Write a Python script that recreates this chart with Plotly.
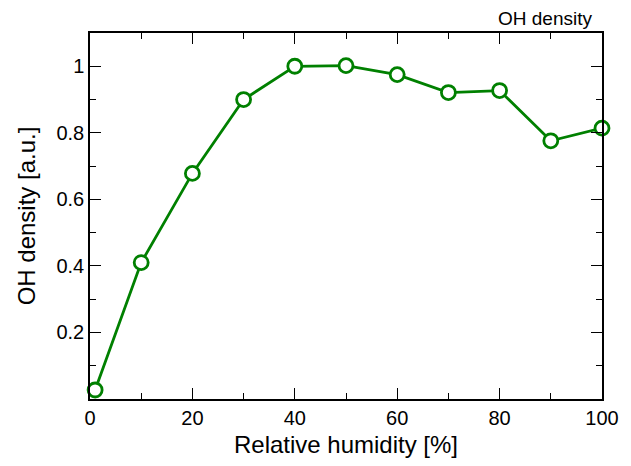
import plotly.graph_objects as go

humidity = [1, 10, 20, 30, 40, 50, 60, 70, 80, 90, 100]
oh_density = [0.027, 0.41, 0.678, 0.90, 1.0, 1.002, 0.975, 0.921, 0.927, 0.776, 0.814]

x_ticks = [0, 20, 40, 60, 80, 100]
y_ticks = [0.2, 0.4, 0.6, 0.8, 1.0]
y_tick_text = ["0.2", "0.4", "0.6", "0.8", "1"]

green = "#008000"
font = "Liberation Sans, Arial, sans-serif"

fig = go.Figure()
fig.add_trace(go.Scatter(
    x=humidity, y=oh_density, mode="lines+markers",
    line=dict(color=green, width=2.8),
    marker=dict(symbol="circle", size=14, color="white", line=dict(color=green, width=2.8)),
    cliponaxis=False, showlegend=False,
))

axis_common = dict(
    showline=True, linecolor="black", linewidth=1.5, mirror="ticks",
    ticks="inside", ticklen=11, tickwidth=1.2, tickcolor="black",
    showgrid=False, zeroline=False,
    tickfont=dict(family=font, size=20, color="black"),
)

fig.update_xaxes(
    range=[0, 100], tickvals=x_ticks,
    minor=dict(ticks="inside", ticklen=6, tickwidth=1.2, tickcolor="black", dtick=10, tick0=0, showgrid=False),
    title=dict(text="Relative humidity [%]", font=dict(family=font, size=24, color="black"), standoff=8),
    **axis_common,
)
fig.update_yaxes(
    range=[0, 1.1], tickvals=y_ticks, ticktext=y_tick_text,
    minor=dict(ticks="inside", ticklen=6, tickwidth=1.2, tickcolor="black", dtick=0.1, tick0=0, showgrid=False),
    title=dict(text="OH density [a.u.]", font=dict(family=font, size=24, color="black"), standoff=14),
    **axis_common,
)

fig.add_annotation(
    text="OH density", xref="paper", yref="paper", x=0.985, y=1.0,
    xanchor="right", yanchor="bottom", yshift=2, showarrow=False,
    font=dict(family=font, size=19, color="black"),
)

fig.update_layout(
    width=631, height=466,
    margin=dict(l=90, r=24, t=33, b=64),
    paper_bgcolor="white", plot_bgcolor="white",
)

fig.write_html("out.html")
